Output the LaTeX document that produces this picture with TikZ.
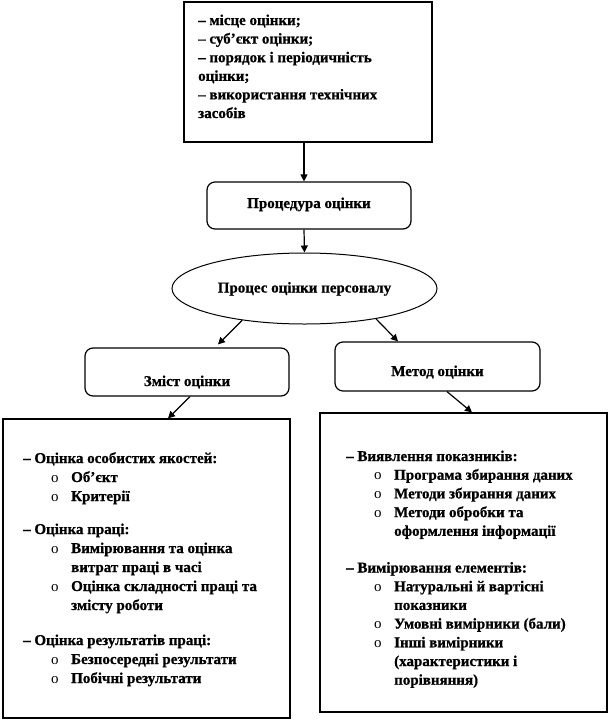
\documentclass[tikz,border=0pt]{standalone}
\usepackage{fontspec}
\setmainfont{Liberation Serif}[BoldFeatures={FakeBold=0.8}]
\usetikzlibrary{arrows.meta,shapes.geometric}
\newcommand{\bul}{\hspace*{28pt}\makebox[20pt][l]{\mdseries o}}
\newcommand{\ind}{\hspace*{48pt}}
\newcommand{\lowered}[2]{\raisebox{-#1pt}[0pt][0pt]{#2}}
\begin{document}
\begin{tikzpicture}[x=1pt,y=-1pt,
  txt/.style={font=\fontsize{15}{19}\selectfont\bfseries},
  sqbox/.style={draw,line width=1.2pt,inner sep=0pt},
  rbox/.style={draw,line width=1.2pt,rounded corners=8pt,inner sep=0pt,txt},
  oval/.style={draw,ellipse,line width=1pt,inner sep=0pt,txt},
  arr/.style={-{Triangle[length=7pt,width=7pt]},line width=1.2pt},
  body/.style={anchor=base west,inner sep=0pt,txt}]
\useasboundingbox (0,0) rectangle (609,721);
\fill[white] (0,0) rectangle (609,721);

\node[sqbox,minimum width=248pt,minimum height=140pt] (top) at (308,72) {};
\node[body] (toptxt) at (198,25) {\parbox[t]{240pt}{\fontsize{15}{18.6}\selectfont
– місце оцінки;\\
– суб’єкт оцінки;\\
– порядок і періодичність\\
оцінки;\\
– використання технічних\\
засобів}};

\node[rbox,minimum width=204pt,minimum height=47pt] (proc) at (309,205.5) {\lowered{2.5}{Процедура оцінки}};
\node[oval,minimum width=265pt,minimum height=71pt] (ell) at (304.5,288.5) {\lowered{4}{Процес оцінки персоналу}};
\node[rbox,minimum width=204pt,minimum height=48pt] (zm) at (187,372) {\lowered{14}{Зміст оцінки}};
\node[rbox,minimum width=205pt,minimum height=49pt] (mt) at (437.5,366.5) {\lowered{9.5}{Метод оцінки}};

\node[sqbox,minimum width=287pt,minimum height=299pt] (lb) at (146.5,568.5) {};
\node[sqbox,minimum width=287pt,minimum height=299pt] (rb) at (463.5,562.5) {};

\node[body] (lbtxt) at (23,463) {\parbox[t]{265pt}{\fontsize{15}{19}\selectfont
– Оцінка особистих якостей:\\
\bul Об’єкт\\
\bul Критерії\\[14pt]
– Оцінка праці:\\
\bul Вимірювання та оцінка\\
\ind витрат праці в часі\\
\bul Оцінка складності праці та\\
\ind змісту роботи\\[16pt]
– Оцінка результатів праці:\\
\bul Безпосередні результати\\
\bul Побічні результати}};

\node[body] (rbtxt) at (346,461) {\parbox[t]{255pt}{\fontsize{15}{18.7}\selectfont
– Виявлення показників:\\
\bul Програма збирання даних\\
\bul Методи збирання даних\\
\bul Методи обробки та\\
\ind оформлення інформації\\[18pt]
– Вимірювання елементів:\\
\bul Натуральні й вартісні\\
\ind показники\\
\bul Умовні вимірники (бали)\\
\bul Інші вимірники\\
\ind (характеристики і\\
\ind порівняння)}};

\draw[arr] ([xshift=-4pt]top.south) -- ([xshift=-5pt]proc.north);
\draw[arr] ([xshift=-5pt]proc.south) -- (ell.north);
\draw[arr] (ell.207) -- ([xshift=31pt,yshift=3pt]zm.north);
\draw[arr] (ell.337) -- ([xshift=-39.5pt]mt.north);
\draw[arr] ([xshift=3pt]zm.south) -- ([xshift=21.5pt]lb.north);
\draw[arr] ([xshift=9.5pt]mt.south) -- ([xshift=8.5pt]rb.north);
\end{tikzpicture}
\end{document}
